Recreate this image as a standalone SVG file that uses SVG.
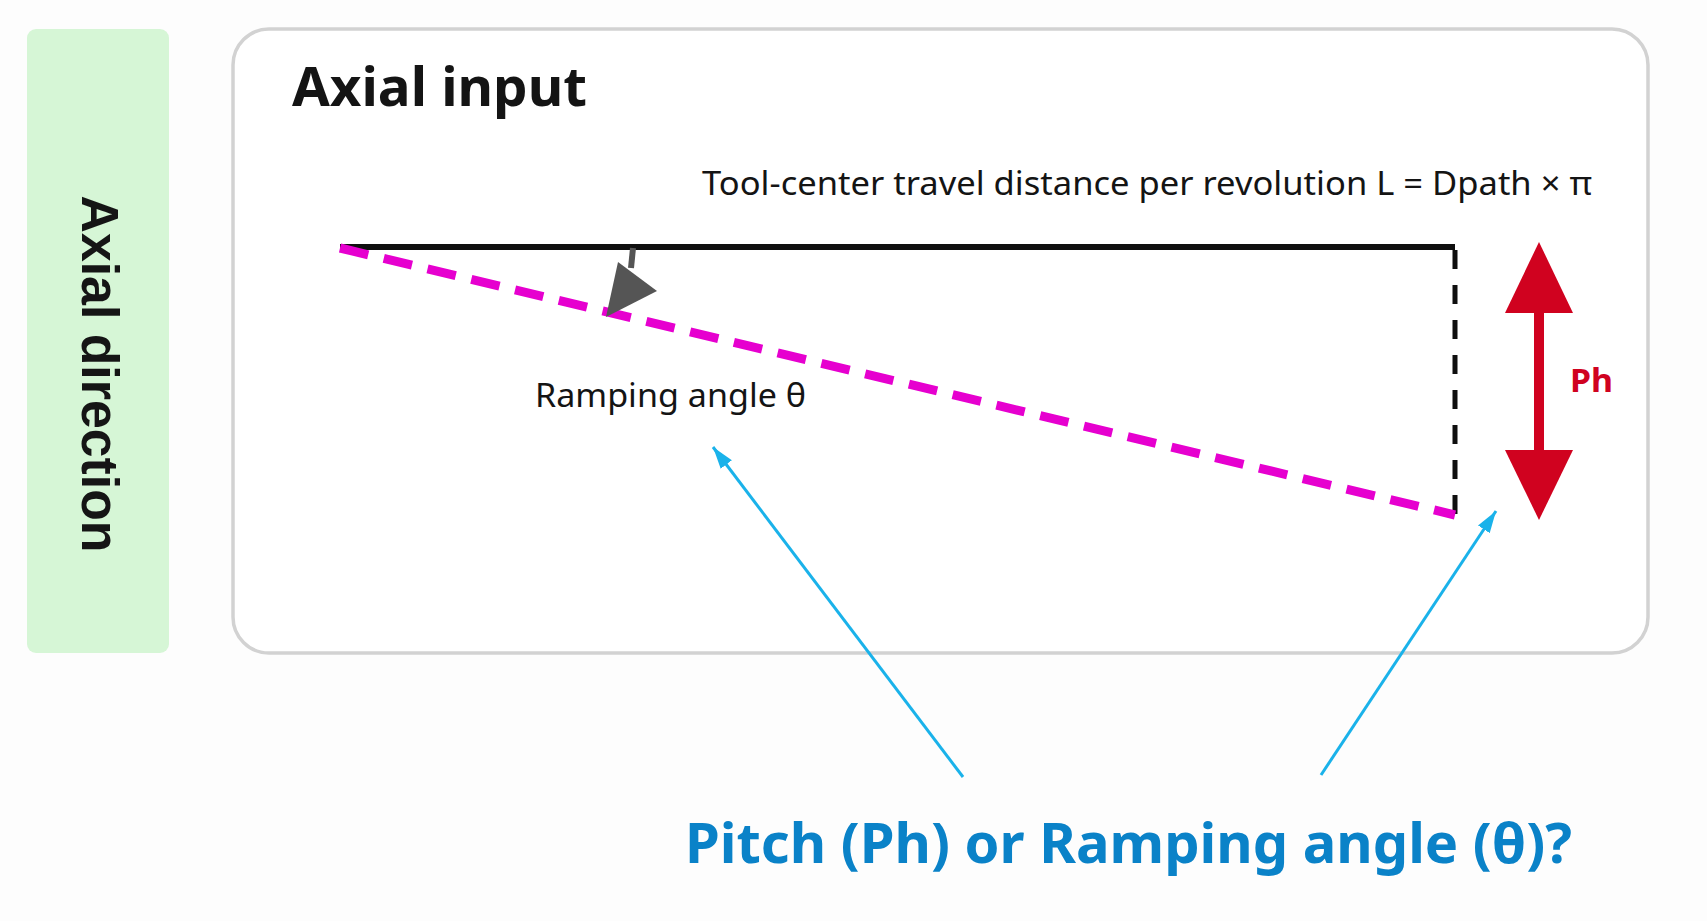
<svg xmlns="http://www.w3.org/2000/svg" width="1707" height="921" viewBox="0 0 1707 921">
  <style>
    .sans { font-family: "Noto Sans", "Open Sans", "Liberation Sans", sans-serif; }
    .arial { font-family: "Liberation Sans", Arial, sans-serif; }
  </style>
  <defs>
    <marker id="blueHead" markerUnits="userSpaceOnUse" markerWidth="24" markerHeight="16" refX="22" refY="8" orient="auto">
      <path d="M0,1 L22,8 L0,15 Z" fill="#1ab2ea"/>
    </marker>
  </defs>
  <rect x="0" y="0" width="1707" height="921" fill="#fdfdfd"/>

  <g id="axial-direction-label">
    <rect x="27" y="29" width="142" height="624" rx="9" fill="#d6f6d6"/>
    <text class="arial" transform="translate(82,374) rotate(90)" font-size="51" font-weight="bold" fill="#151515" text-anchor="middle" textLength="357" lengthAdjust="spacingAndGlyphs">Axial direction</text>
  </g>

  <g id="axial-input-panel">
    <rect x="233" y="29" width="1415" height="624" rx="36" fill="#ffffff" stroke="#d2d2d2" stroke-width="3.5"/>
    <text class="sans" x="292" y="106" font-size="54" font-weight="bold" fill="#141414" textLength="295" lengthAdjust="spacingAndGlyphs">Axial input</text>
  </g>

  <g id="travel-label">
    <text class="sans" x="702" y="195" font-size="32" fill="#141414" textLength="890" lengthAdjust="spacingAndGlyphs">Tool-center travel distance per revolution L = Dpath × π</text>
  </g>

  <g id="geometry">
    <line x1="340" y1="247" x2="1455" y2="247" stroke="#0f0f0f" stroke-width="6"/>
    <line x1="1455" y1="250" x2="1455" y2="517" stroke="#0f0f0f" stroke-width="5" stroke-dasharray="19 16"/>
    <line x1="340" y1="248" x2="1455" y2="515" stroke="#e600cf" stroke-width="9" stroke-dasharray="29 16"/>
  </g>

  <g id="angle-arrow">
    <line x1="633" y1="248" x2="631" y2="268" stroke="#555555" stroke-width="6"/>
    <polygon points="618,262 657,291 606,317" fill="#555555"/>
    <text class="sans" x="535" y="407" font-size="33" fill="#141414" textLength="271" lengthAdjust="spacingAndGlyphs">Ramping angle θ</text>
  </g>

  <g id="pitch-arrow">
    <line x1="1539" y1="305" x2="1539" y2="458" stroke="#d0021f" stroke-width="10"/>
    <polygon points="1539,242 1573,313 1505,313" fill="#d0021f"/>
    <polygon points="1539,520 1573,450 1505,450" fill="#d0021f"/>
    <text class="sans" x="1570" y="392" font-size="33" font-weight="bold" fill="#d0021f" textLength="43" lengthAdjust="spacingAndGlyphs">Ph</text>
  </g>

  <g id="connectors">
    <line x1="963" y1="777" x2="713" y2="447" stroke="#1ab2ea" stroke-width="3" marker-end="url(#blueHead)"/>
    <line x1="1321" y1="775" x2="1496" y2="511" stroke="#1ab2ea" stroke-width="3" marker-end="url(#blueHead)"/>
  </g>

  <g id="question-label">
    <text class="sans" x="685" y="863" font-size="55" font-weight="bold" fill="#0a82c8" textLength="887" lengthAdjust="spacingAndGlyphs">Pitch (Ph) or Ramping angle (θ)?</text>
  </g>
</svg>
